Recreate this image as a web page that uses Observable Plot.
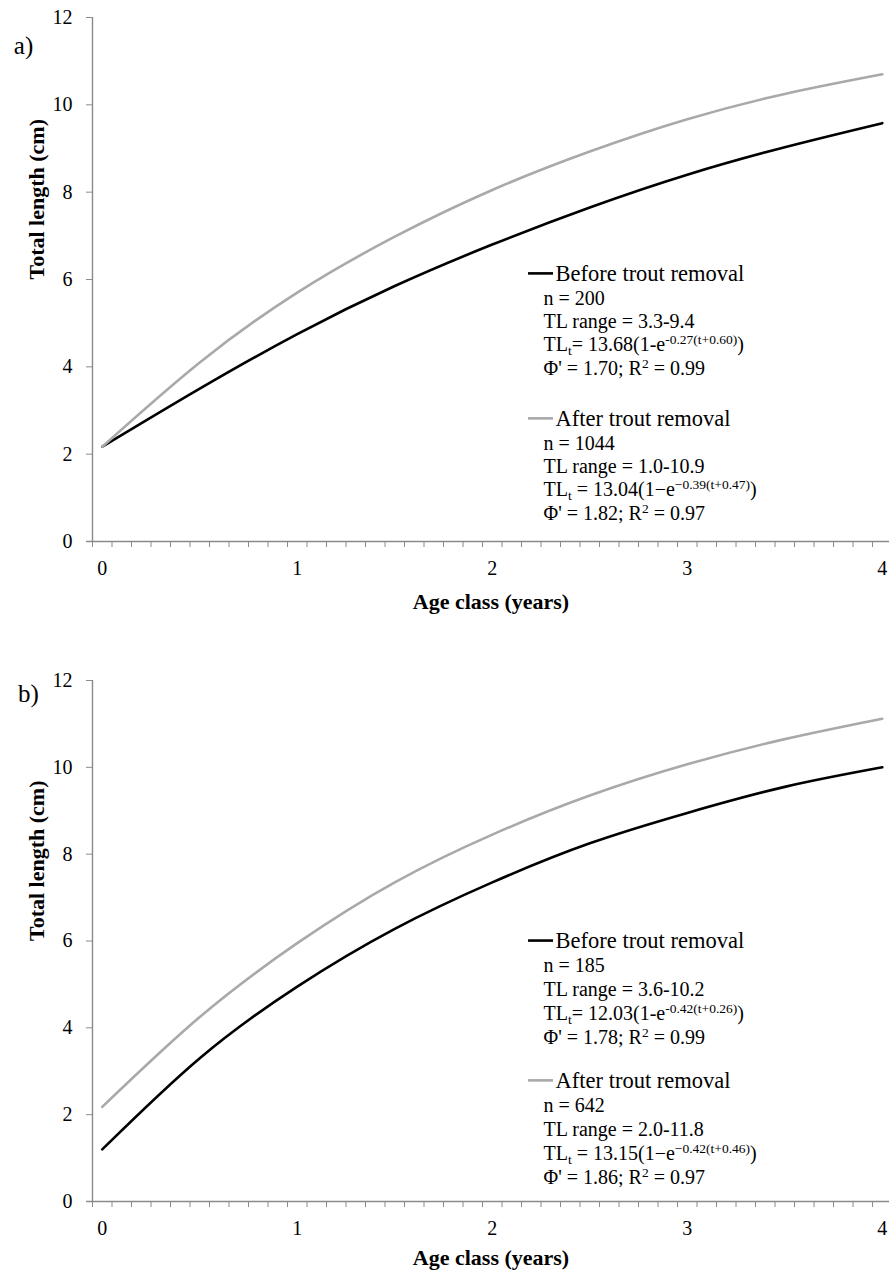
<!DOCTYPE html>
<html><head><meta charset="utf-8">
<script src="https://cdn.jsdelivr.net/npm/d3@7"></script>
<script src="https://cdn.jsdelivr.net/npm/@observablehq/plot@0.6"></script>
<style>
body{margin:0;background:#fff;}
#chart svg{display:block;}
</style>
</head><body><div id="chart"></div>
<script>
// ---- data ----
const ages = [0, 0.5, 1, 1.5, 2, 2.5, 3, 3.5, 4];
const aBefore = [2.17, 3.50, 4.75, 5.85, 6.80, 7.65, 8.40, 9.03, 9.58];
const aAfter  = [2.17, 4.10, 5.70, 6.98, 8.05, 8.93, 9.67, 10.25, 10.70];
const bBefore = [1.20, 3.30, 4.95, 6.28, 7.35, 8.25, 8.95, 9.55, 10.00];
const bAfter  = [2.18, 4.25, 5.95, 7.35, 8.45, 9.35, 10.07, 10.65, 11.12];
const xTicks = [0, 1, 2, 3, 4];
const yTicks = [0, 2, 4, 6, 8, 10, 12];
const seriesNames = ["Before trout removal", "After trout removal"];
const seriesColors = ["#000000", "#a9a9a9"];
const panelLabels = ["a)", "b)"];
const xTitle = "Age class (years)";
const yTitle = "Total length (cm)";
const aBeforeStats = ["n = 200", "TL range = 3.3-9.4", "TL_{t}= 13.68(1-e^{-0.27(t+0.60)})", "Φ' = 1.70; R^{2} = 0.99"];
const aAfterStats  = ["n = 1044", "TL range = 1.0-10.9", "TL_{t} = 13.04(1\u2212e^{\u22120.39(t+0.47)})", "Φ' = 1.82; R^{2} = 0.97"];
const bBeforeStats = ["n = 185", "TL range = 3.6-10.2", "TL_{t}= 12.03(1-e^{-0.42(t+0.26)})", "Φ' = 1.78; R^{2} = 0.99"];
const bAfterStats  = ["n = 642", "TL range = 2.0-11.8", "TL_{t} = 13.15(1\u2212e^{\u22120.42(t+0.46)})", "Φ' = 1.86; R^{2} = 0.97"];

const FONT = "'Liberation Serif', 'Times New Roman', Times, serif";
const AXIS = "#8a8a8a";
const minorTicks = d3.range(41).map(i => -0.05 + i * 0.1);
const XMIN = -0.05, XMAX = 4.037;
const LEG_X = 2.186, LEG_LEN = 0.128;

function legendBlock(idx, stats, y, rowStep) {
  return [
    Plot.ruleY([y], {x1: LEG_X, x2: LEG_X + LEG_LEN, stroke: seriesColors[idx], strokeWidth: 2.6}),
    Plot.text([seriesNames[idx]], {x: LEG_X, y, dx: 27, textAnchor: "start", fontSize: 22.5, fill: "black"}),
    ...stats.map((s, i) => Plot.text([s], {x: LEG_X, y, dx: 15, dy: 25 + i * rowStep, textAnchor: "start", fontSize: 20, fill: "black"}))
  ];
}

function panel(o) {
  const rows = ages.flatMap((t, i) => [
    {t, v: o.before[i], s: seriesNames[0]},
    {t, v: o.after[i], s: seriesNames[1]}
  ]);
  return Plot.plot({
    width: 889, height: o.height,
    marginLeft: 92, marginRight: 0, marginTop: o.marginTop, marginBottom: o.marginBottom,
    style: {fontFamily: FONT, fontSize: "20px", color: "black", background: "white", overflow: "visible"},
    x: {domain: [XMIN, XMAX]},
    y: {domain: [0, 12]},
    color: {domain: seriesNames, range: seriesColors},
    marks: [
      Plot.ruleX([XMIN], {y1: 0, y2: 12, stroke: AXIS, strokeWidth: 1.4}),
      Plot.ruleY([0], {x1: -0.08, x2: XMAX, stroke: AXIS, strokeWidth: 1.4}),
      Plot.axisY({ticks: yTicks, tickSize: 6, tickPadding: 14, tickFormat: d3.format("d"), stroke: AXIS, fill: "black", label: null, fontSize: 20}),
      Plot.axisX({ticks: minorTicks, tickSize: 6, stroke: AXIS, fill: "none", label: null}),
      Plot.axisX({ticks: xTicks, tickSize: 0, tickPadding: 19, tickFormat: d3.format("d"), fill: "black", label: null, fontSize: 20}),
      Plot.line(rows, {x: "t", y: "v", z: "s", stroke: "s", curve: "natural", strokeWidth: 2.6}),
      ...legendBlock(0, o.beforeStats, o.legBeforeY, o.rowStep),
      ...legendBlock(1, o.afterStats, o.legAfterY, o.rowStep),
      Plot.text([xTitle], {frameAnchor: "bottom", dy: o.xTitleDy, lineAnchor: "middle", fontSize: 22, fontWeight: "bold", fill: "black"}),
      Plot.text([yTitle], {frameAnchor: "left", dx: -56, rotate: -90, lineAnchor: "middle", fontSize: 22, fontWeight: "bold", fill: "black"}),
      Plot.text([o.label], {frameAnchor: "top-left", dx: o.labelDx, dy: o.labelDy, textAnchor: "middle", lineAnchor: "middle", fontSize: 25, fill: "black"})
    ]
  });
}

function richify(svg) {
  d3.select(svg).selectAll("text").each(function() {
    const s = this.textContent;
    if (!/[\^_]\{/.test(s)) return;
    const parts = s.split(/(\^\{[^}]*\}|_\{[^}]*\})/).filter(p => p.length);
    const el = d3.select(this);
    el.text(null);
    let shift = 0;
    for (const p of parts) {
      let target = 0, txt = p, small = false;
      if (p.startsWith("^{")) { target = -7; txt = p.slice(2, -1); small = true; }
      else if (p.startsWith("_{")) { target = 4; txt = p.slice(2, -1); small = true; }
      const ts = el.append("tspan").attr("dy", target - shift).text(txt);
      if (small) ts.attr("font-size", 13.5);
      shift = target;
    }
  });
}

const a = panel({
  label: panelLabels[0], before: aBefore, after: aAfter,
  beforeStats: aBeforeStats, afterStats: aAfterStats,
  height: 640, marginTop: 17, marginBottom: 99,
  legBeforeY: 6.14, legAfterY: 2.82, rowStep: 23.3,
  xTitleDy: 60, labelDx: -69, labelDy: 28
});
const b = panel({
  label: panelLabels[1], before: bBefore, after: bAfter,
  beforeStats: bBeforeStats, afterStats: bAfterStats,
  height: 633, marginTop: 40, marginBottom: 72,
  legBeforeY: 6.01, legAfterY: 2.79, rowStep: 24,
  xTitleDy: 56, labelDx: -64, labelDy: 13
});
richify(a); richify(b);
document.getElementById("chart").append(a, b);
</script>
</body></html>
